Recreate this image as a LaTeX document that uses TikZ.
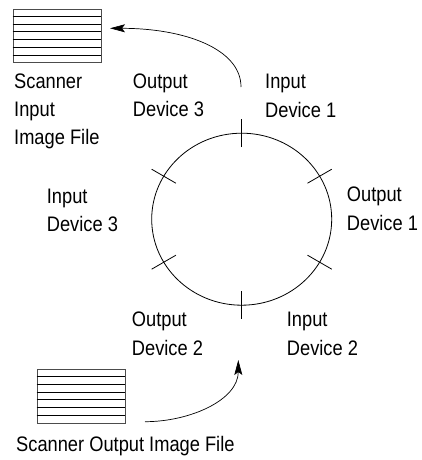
\documentclass[tikz,border=0pt]{standalone}
\usepackage{fontspec}
\setmainfont{Liberation Sans}[FakeStretch=0.87]
\usetikzlibrary{calc,arrows.meta}
\tikzset{
  lbl/.style={anchor=base west, inner sep=0pt, font=\fontsize{21pt}{28.3pt}\selectfont},
  fileicon/.style={draw=black!70, line width=0.7pt, rectangle, minimum width=88pt, minimum height=53.7pt, inner sep=0pt},
  flow/.style={line width=0.7pt, -{Stealth[length=15pt,width=8pt,inset=3pt]}},
  ring/.style={line width=0.8pt},
  tick/.style={line width=0.8pt}
}
\newcommand{\lines}[1]{\vtop{\baselineskip=28.3pt\lineskiplimit=-20pt\halign{##\hfil\cr#1\crcr}}}
\begin{document}
\begin{tikzpicture}[x=1pt,y=-1pt]
\useasboundingbox (0,0) rectangle (422,460);
% file icons
\node[fileicon] (f1) at (57,35.85) {};
\node[fileicon] (f2) at (80.85,396) {};
\foreach \f in {f1,f2}{
  \foreach \k/\w in {1/1pt,2/1.3pt,3/1pt,4/1pt,5/1.4pt,6/1pt}{
    \draw[line width=\w] ($(\f.north west)!\k/7!(\f.south west)$) -- ($(\f.north east)!\k/7!(\f.south east)$);
  }
}
% ring
\coordinate (c) at (241.7,219.2);
\draw[ring] (c) ellipse [x radius=90, y radius=86];
\foreach \a in {30,90,150,210,270,330}{
  \draw[tick] ($(c)+(\a:90 and 86)+(\a:-14)$) -- ($(c)+(\a:90 and 86)+(\a:14)$);
}
% labels
\node[lbl] (sin) at (14,88.3) {\lines{Scanner\cr Input\cr Image File}};
\node[lbl] (od3) at (132.7,88.3) {\lines{Output\cr Device 3}};
\node[lbl] (id1) at (265,88.8) {\lines{Input\cr Device 1}};
\node[lbl] (id3) at (46.7,203.3) {\lines{Input\cr Device 3}};
\node[lbl] (od1) at (346.7,201.7) {\lines{Output\cr Device 1}};
\node[lbl] (od2) at (131.7,326.7) {\lines{Output\cr Device 2}};
\node[lbl] (id2) at (286.7,326.7) {\lines{Input\cr Device 2}};
\node[lbl] (sout) at (16,451.7) {Scanner Output Image File};
% arrows
\coordinate (a1s) at (241,87);
\coordinate (a1e) at (110,28.3);
\coordinate (a2s) at (145,421.7);
\coordinate (a2e) at (238.3,360);
\draw[flow] (a1s) .. controls +(0,-38) and +(75,0) .. (a1e);
\draw[flow] (a2s) .. controls +(45,0) and +(0,40) .. (a2e);
\end{tikzpicture}
\end{document}
